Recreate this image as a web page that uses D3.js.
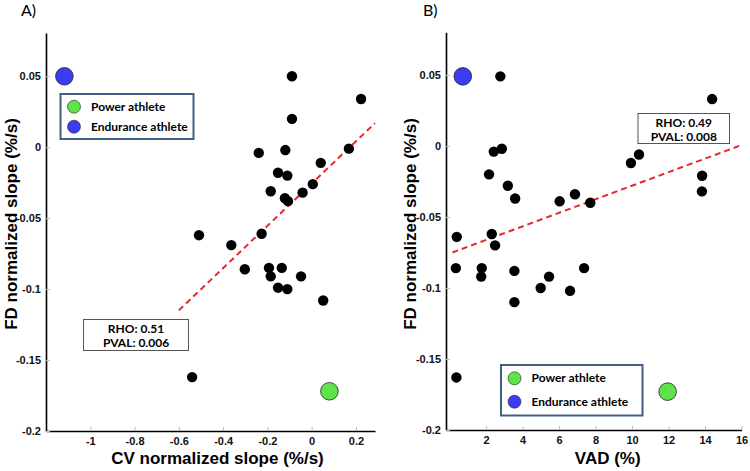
<!DOCTYPE html>
<html>
<head>
<meta charset="utf-8">
<script src="https://cdn.jsdelivr.net/npm/d3@7"></script>
<style>
  body { margin: 0; background: #fff; }
  svg { display: block; }
  .tick text { font-family: "Liberation Sans", Arial, sans-serif; font-weight: bold; font-size: 11px; fill: #111; }
  .tick line { stroke: #bbb; }
  .domain { stroke: #000; stroke-width: 1.6; }
</style>
</head>
<body>
<div id="chart"></div>
<script>
// panel A: CV normalized slope vs FD normalized slope
var cvSlope = [-0.089, 0.223, -0.089, -0.239, -0.119, 0.168, 0.041, -0.152, -0.110, 0.005,
  -0.185, -0.041, -0.121, -0.107, -0.509, -0.226, -0.363, -0.302, -0.193, -0.185,
  -0.135, -0.048, -0.152, -0.110, 0.052, -0.540];
var fdSlopeA = [0.050, 0.034, 0.020, -0.004, -0.002, -0.001, -0.011, -0.018, -0.020, -0.026,
  -0.031, -0.032, -0.036, -0.038, -0.062, -0.061, -0.069, -0.086, -0.085, -0.091,
  -0.085, -0.091, -0.099, -0.100, -0.108, -0.162];
var enduranceA = [-1.117, 0.050];
var powerA = [0.080, -0.172];
var fitA = [[-0.6, -0.115], [0.286, 0.017]];
var ticksXA = [-1, -0.8, -0.6, -0.4, -0.2, 0, 0.2];

// panel B: VAD vs FD normalized slope
var vad = [2.78, 14.39, 2.42, 2.86, 10.38, 9.94, 2.16, 13.84, 3.19, 6.87,
  3.59, 13.83, 6.03, 7.71, 0.39, 2.31, 2.49, 0.34, 1.76, 1.73,
  3.55, 5.45, 7.37, 4.99, 6.60, 3.55, 0.37];
var fdSlopeB = [0.049, 0.033, -0.004, -0.002, -0.006, -0.012, -0.020, -0.021, -0.028, -0.034,
  -0.037, -0.032, -0.039, -0.040, -0.064, -0.062, -0.070, -0.086, -0.086, -0.092,
  -0.088, -0.092, -0.086, -0.100, -0.102, -0.110, -0.163];
var enduranceB = [0.72, 0.049];
var powerB = [11.95, -0.173];
var fitB = [[0.15, -0.075], [15.87, 0.0]];
var ticksXB = [2, 4, 6, 8, 10, 12, 14, 16];

var ticksY = [0.05, 0, -0.05, -0.1, -0.15, -0.2];
var legendLabels = ['Power athlete', 'Endurance athlete'];

var width = 750, height = 471,
    blue = '#3c3cf2',
    green = '#5fe34b',
    red = '#e5282b',
    boxBlue = '#3f5f86';

var svg = d3.select('#chart')
  .append('svg')
    .attr('width', width)
    .attr('height', height);

function fmt(d) { return String(d); }

function drawPanel(p) {
  var x = d3.scaleLinear().domain(p.xDomain).range(p.xRange);
  var y = d3.scaleLinear().domain(p.yDomain).range(p.yRange);
  var g = svg.append('g');

  g.append('g')
    .attr('transform', 'translate(0,' + p.yRange[0] + ')')
    .call(d3.axisBottom(x).tickValues(p.xTicks).tickFormat(fmt)
      .tickSizeInner(-4).tickSizeOuter(0).tickPadding(6));

  g.append('g')
    .attr('transform', 'translate(' + p.xRange[0] + ',0)')
    .call(d3.axisLeft(y).tickValues(ticksY).tickFormat(fmt)
      .tickSizeInner(-4).tickSizeOuter(0).tickPadding(5));

  // regression line
  g.append('line')
    .attr('x1', x(p.fit[0][0])).attr('y1', y(p.fit[0][1]))
    .attr('x2', x(p.fit[1][0])).attr('y2', y(p.fit[1][1]))
    .attr('stroke', red)
    .attr('stroke-width', 2)
    .attr('stroke-dasharray', '6,4');

  g.selectAll('circle.pt')
    .data(d3.zip(p.xs, p.ys))
    .enter().append('circle')
      .classed('pt', true)
      .attr('cx', function (d) { return x(d[0]); })
      .attr('cy', function (d) { return y(d[1]); })
      .attr('r', 5.2)
      .attr('fill', '#000');

  [[p.endurance, blue], [p.power, green]].forEach(function (s) {
    g.append('circle')
      .attr('cx', x(s[0][0]))
      .attr('cy', y(s[0][1]))
      .attr('r', 8.8)
      .attr('fill', s[1])
      .attr('stroke', '#222')
      .attr('stroke-width', 0.8);
  });

  // panel letter
  g.append('text')
    .attr('x', p.letterX).attr('y', 16)
    .style('font-family', 'Lato, "Open Sans", sans-serif')
    .style('font-size', '16px')
    .text(p.letter);

  g.append('text')
    .attr('x', (p.xRange[0] + p.xRange[1]) / 2 + p.xLabelShift)
    .attr('y', 464)
    .attr('text-anchor', 'middle')
    .style('font-family', '"Liberation Sans", Arial, sans-serif')
    .style('font-weight', 'bold')
    .style('font-size', '17px')
    .text(p.xLabel);

  g.append('text')
    .attr('transform', 'translate(' + p.yLabelX + ',224) rotate(-90)')
    .attr('text-anchor', 'middle')
    .style('font-family', '"Liberation Sans", Arial, sans-serif')
    .style('font-weight', 'bold')
    .style('font-size', '17px')
    .text('FD normalized slope (%/s)');

  // legend
  var L = p.legend;
  g.append('rect')
    .attr('x', L.x).attr('y', L.y)
    .attr('width', L.w).attr('height', L.h)
    .attr('fill', '#fff')
    .attr('stroke', boxBlue)
    .attr('stroke-width', 2);
  legendLabels.forEach(function (lab, i) {
    var cy = L.y + L.first + i * L.step;
    g.append('circle')
      .attr('cx', L.x + 13.5).attr('cy', cy)
      .attr('r', 6.5)
      .attr('fill', i === 0 ? green : blue)
      .attr('stroke', '#222')
      .attr('stroke-width', 0.6);
    g.append('text')
      .attr('x', L.x + 30.5).attr('y', cy + 4)
      .style('font-family', 'Lato, "Open Sans", sans-serif')
      .style('font-weight', 'bold')
      .style('font-size', '12px')
      .text(lab);
  });

  // stats box
  var S = p.stats;
  g.append('rect')
    .attr('x', S.x).attr('y', S.y)
    .attr('width', S.w).attr('height', S.h)
    .attr('fill', '#fff')
    .attr('stroke', '#555')
    .attr('stroke-width', 1);
  S.lines.forEach(function (t, i) {
    g.append('text')
      .attr('x', S.x + S.w / 2)
      .attr('y', S.y + 13 + i * 14)
      .attr('text-anchor', 'middle')
      .style('font-family', 'Lato, "Open Sans", sans-serif')
      .style('font-weight', 'bold')
      .style('font-size', '12px')
      .text(t);
  });
}

drawPanel({
  letter: 'A)', letterX: 21,
  xs: cvSlope, ys: fdSlopeA, endurance: enduranceA, power: powerA, fit: fitA,
  xDomain: [-1.2, 0.286], xRange: [46, 375],
  yDomain: [-0.2, 0.0805], yRange: [431, 33],
  xTicks: ticksXA, xLabel: 'CV normalized slope (%/s)', xLabelShift: 7,
  yLabelX: 17,
  legend: {x: 60.5, y: 94, w: 133, h: 45, first: 12.7, step: 20},
  stats: {x: 83.5, y: 319.5, w: 105, h: 31, lines: ['RHO: 0.51', 'PVAL: 0.006']}
});

drawPanel({
  letter: 'B)', letterX: 423,
  xs: vad, ys: fdSlopeB, endurance: enduranceB, power: powerB, fit: fitB,
  xDomain: [-0.2, 16], xRange: [446, 741.5],
  yDomain: [-0.2, 0.08], yRange: [430, 32.3],
  xTicks: ticksXB, xLabel: 'VAD (%)', xLabelShift: 14,
  yLabelX: 416,
  legend: {x: 501, y: 365, w: 141.5, h: 50.5, first: 13.3, step: 23.4},
  stats: {x: 638, y: 113.5, w: 91.5, h: 30, lines: ['RHO: 0.49', 'PVAL: 0.008']}
});
</script>
</body>
</html>
